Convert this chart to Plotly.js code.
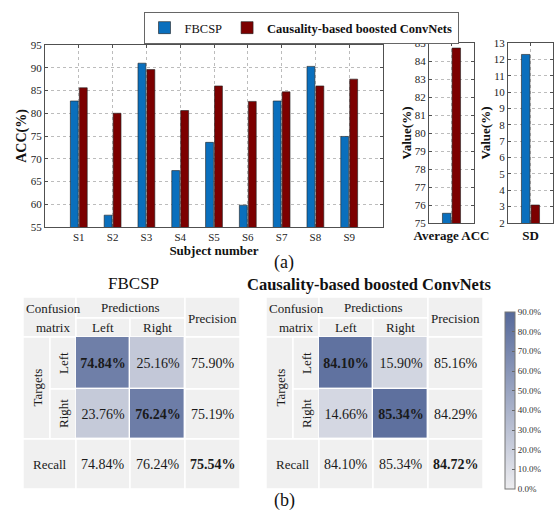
<!DOCTYPE html>
<html><head><meta charset="utf-8">
<script src="https://cdn.plot.ly/plotly-3.0.1.min.js"></script>
<style>html,body{margin:0;padding:0;background:#fff}#chart{width:555px;height:511px}</style>
</head><body><div id="chart"></div><script>
// ---------- data ----------
const subjects = ['S1','S2','S3','S4','S5','S6','S7','S8','S9'];
const fbcspAcc  = [82.7, 57.6, 91.0, 67.4, 73.6, 59.8, 82.7, 90.3, 74.9];
const causalAcc = [85.6, 80.0, 89.6, 80.6, 86.0, 82.6, 84.7, 86.0, 87.5];
const averageLabel = ['Average ACC'];
const averageFbcsp = [75.54];
const averageCausal = [84.72];
const sdLabel = ['SD'];
const sdFbcsp = [12.3];
const sdCausal = [3.1];
const seriesNames = ['FBCSP', '<b>Causality-based boosted ConvNets</b>'];

const classLabels = ['Left', 'Right'];
const fbcspConf = [[74.84, 25.16], [23.76, 76.24]];
const fbcspPrecision = [75.90, 75.19];
const fbcspRecall = [74.84, 76.24];
const fbcspOverall = 75.54;
const causalConf = [[84.10, 15.90], [14.66, 85.34]];
const causalPrecision = [85.16, 84.29];
const causalRecall = [84.10, 85.34];
const causalOverall = 84.72;
const colorbarTicks = [0, 10, 20, 30, 40, 50, 60, 70, 80, 90];

// ---------- style ----------
const W = 555, H = 511;
const FONT = 'Liberation Serif, Times New Roman, serif';
const BLUE = '#0a6fbd', RED = '#7c0000';
const fx = p => p / W;
const fy = p => 1 - p / H;
const fmt = v => v.toFixed(2) + '%';

const axisCommon = {
  showline: true, mirror: 'ticks', linecolor: '#505050', linewidth: 1,
  ticks: 'inside', ticklen: 3, tickcolor: '#505050',
  showgrid: true, griddash: 'dot', gridcolor: '#bcbcbc', gridwidth: 1,
  zeroline: false, fixedrange: true,
  tickfont: {family: FONT, size: 11, color: '#222'}
};
const barLine = {color: '#202020', width: 0.6};

const traces = [
  {type: 'bar', x: subjects, y: fbcspAcc, name: seriesNames[0], xaxis: 'x', yaxis: 'y',
   marker: {color: BLUE, line: barLine}},
  {type: 'bar', x: subjects, y: causalAcc, name: seriesNames[1], xaxis: 'x', yaxis: 'y',
   marker: {color: RED, line: barLine}},
  {type: 'bar', x: averageLabel, y: averageFbcsp, showlegend: false, xaxis: 'x2', yaxis: 'y2',
   marker: {color: BLUE, line: barLine}},
  {type: 'bar', x: averageLabel, y: averageCausal, showlegend: false, xaxis: 'x2', yaxis: 'y2',
   marker: {color: RED, line: barLine}},
  {type: 'bar', x: sdLabel, y: sdFbcsp, showlegend: false, xaxis: 'x3', yaxis: 'y3',
   marker: {color: BLUE, line: barLine}},
  {type: 'bar', x: sdLabel, y: sdCausal, showlegend: false, xaxis: 'x3', yaxis: 'y3',
   marker: {color: RED, line: barLine}}
];

// table geometry (layout units inside each table axis)
const colE = [0, 27, 53, 107, 162, 217];
const rowE = [0, 21, 40, 92, 142, 192];
const shapes = [];
const annotations = [];
const CELL = '#f0f0f0';

function cell(xa, ya, x0, x1, y0, y1) {
  shapes.push({type: 'rect', xref: xa, yref: ya, x0: x0, x1: x1, y0: y0, y1: y1,
    fillcolor: CELL, line: {color: '#ffffff', width: 1.4}, layer: 'below'});
}
function txt(xa, ya, x, y, text, size, angle) {
  annotations.push({xref: xa, yref: ya, x: x, y: y, text: text, showarrow: false,
    xanchor: 'center', yanchor: 'middle',
    textangle: angle || 0, font: {family: FONT, size: size, color: '#1a1a1a'}});
}

function buildTable(n, conf, prec, rec, overall) {
  const xa = 'x' + n, ya = 'y' + n;
  const c = colE, r = rowE;
  cell(xa, ya, c[0], c[2], r[0], r[2]);
  cell(xa, ya, c[2], c[4], r[0], r[1]);
  cell(xa, ya, c[2], c[3], r[1], r[2]);
  cell(xa, ya, c[3], c[4], r[1], r[2]);
  cell(xa, ya, c[4], c[5], r[0], r[2]);
  cell(xa, ya, c[0], c[1], r[2], r[4]);
  cell(xa, ya, c[1], c[2], r[2], r[3]);
  cell(xa, ya, c[1], c[2], r[3], r[4]);
  cell(xa, ya, c[4], c[5], r[2], r[3]);
  cell(xa, ya, c[4], c[5], r[3], r[4]);
  cell(xa, ya, c[0], c[2], r[4], r[5]);
  cell(xa, ya, c[2], c[3], r[4], r[5]);
  cell(xa, ya, c[3], c[4], r[4], r[5]);
  cell(xa, ya, c[4], c[5], r[4], r[5]);

  txt(xa, ya, 30, 11, 'Confusion', 13);
  txt(xa, ya, 30, 30, 'matrix', 13);
  txt(xa, ya, (c[2] + c[4]) / 2, 10, 'Predictions', 13);
  txt(xa, ya, (c[2] + c[3]) / 2, 30, classLabels[0], 13);
  txt(xa, ya, (c[3] + c[4]) / 2, 30, classLabels[1], 13);
  txt(xa, ya, (c[4] + c[5]) / 2, 21, 'Precision', 13);
  txt(xa, ya, (c[0] + c[1]) / 2, (r[2] + r[4]) / 2, 'Targets', 13, -90);
  txt(xa, ya, (c[1] + c[2]) / 2, (r[2] + r[3]) / 2, classLabels[0], 13, -90);
  txt(xa, ya, (c[1] + c[2]) / 2, (r[3] + r[4]) / 2, classLabels[1], 13, -90);
  txt(xa, ya, (c[4] + c[5]) / 2, (r[2] + r[3]) / 2, fmt(prec[0]), 14);
  txt(xa, ya, (c[4] + c[5]) / 2, (r[3] + r[4]) / 2, fmt(prec[1]), 14);
  txt(xa, ya, (c[0] + c[2]) / 2, (r[4] + r[5]) / 2, 'Recall', 13);
  txt(xa, ya, (c[2] + c[3]) / 2, (r[4] + r[5]) / 2, fmt(rec[0]), 14);
  txt(xa, ya, (c[3] + c[4]) / 2, (r[4] + r[5]) / 2, fmt(rec[1]), 14);
  txt(xa, ya, (c[4] + c[5]) / 2, (r[4] + r[5]) / 2, '<b>' + fmt(overall) + '</b>', 14);

  const text = conf.map((row, i) => row.map((v, j) => i === j ? '<b>' + fmt(v) + '</b>' : fmt(v)));
  traces.push({type: 'heatmap', xaxis: xa, yaxis: ya,
    x: [c[2], c[3], c[4]], y: [r[2], r[3], r[4]], z: conf,
    text: text, texttemplate: '%{text}',
    textfont: {family: FONT, size: 14, color: '#1a1a1a'},
    coloraxis: 'coloraxis', xgap: 1.4, ygap: 1.4, hoverinfo: 'skip'});
}
buildTable(4, fbcspConf, fbcspPrecision, fbcspRecall, fbcspOverall);
buildTable(5, causalConf, causalPrecision, causalRecall, causalOverall);

function paperText(x, y, text, size) {
  annotations.push({xref: 'paper', yref: 'paper', x: fx(x), y: fy(y), text: text,
    showarrow: false, xanchor: 'center', yanchor: 'middle',
    font: {family: FONT, size: size, color: '#111'}});
}
paperText(133, 283, 'FBCSP', 17);
paperText(369, 284, '<b>Causality-based boosted ConvNets</b>', 16.5);
paperText(284, 262, '(a)', 18);
paperText(284, 500, '(b)', 18);

const tableAxisX = {visible: false, range: [colE[0], colE[5]], fixedrange: true};
const tableAxisY = {visible: false, range: [rowE[5], rowE[0]], fixedrange: true};

const layout = {
  width: W, height: H,
  margin: {l: 0, r: 0, t: 0, b: 0},
  paper_bgcolor: '#fff', plot_bgcolor: '#fff',
  font: {family: FONT, color: '#222'},
  barmode: 'group', bargap: 0.47, bargroupgap: 0.12,
  showlegend: true,
  legend: {orientation: 'h', x: fx(301), xanchor: 'center', y: fy(12), yanchor: 'top',
    bordercolor: '#666', borderwidth: 1, bgcolor: '#fff',
    font: {family: FONT, size: 12.5, color: '#111'}, itemwidth: 30, tracegroupgap: 0},
  xaxis: Object.assign({}, axisCommon, {domain: [fx(45), fx(383)], anchor: 'y',
    type: 'category', range: [-1, 9],
    title: {text: '<b>Subject number</b>', standoff: 0, font: {family: FONT, size: 13, color: '#111'}}}),
  yaxis: Object.assign({}, axisCommon, {domain: [fy(227), fy(45)], anchor: 'x',
    range: [55, 95], dtick: 5, tick0: 55,
    title: {text: '<b>ACC(%)</b>', standoff: 0, font: {family: FONT, size: 14, color: '#111'}}}),
  xaxis2: Object.assign({}, axisCommon, {domain: [fx(429), fx(474)], anchor: 'y2',
    type: 'category', range: [-0.62, 0.62],
    tickfont: {family: FONT, size: 13, color: '#111', weight: 'bold'}}),
  yaxis2: Object.assign({}, axisCommon, {domain: [fy(223), fy(43)], anchor: 'x2',
    range: [75, 85], dtick: 1, tick0: 75,
    title: {text: '<b>Value(%)</b>', standoff: 0, font: {family: FONT, size: 13, color: '#111'}}}),
  xaxis3: Object.assign({}, axisCommon, {domain: [fx(508), fx(553)], anchor: 'y3',
    type: 'category', range: [-0.62, 0.62],
    tickfont: {family: FONT, size: 13, color: '#111', weight: 'bold'}}),
  yaxis3: Object.assign({}, axisCommon, {domain: [fy(223), fy(43)], anchor: 'x3',
    range: [2, 13], dtick: 1, tick0: 2,
    title: {text: '<b>Value(%)</b>', standoff: 0, font: {family: FONT, size: 13, color: '#111'}}}),
  xaxis4: Object.assign({}, tableAxisX, {domain: [fx(23), fx(240)], anchor: 'y4'}),
  yaxis4: Object.assign({}, tableAxisY, {domain: [fy(489), fy(297)], anchor: 'x4'}),
  xaxis5: Object.assign({}, tableAxisX, {domain: [fx(266), fx(483)], anchor: 'y5'}),
  yaxis5: Object.assign({}, tableAxisY, {domain: [fy(489), fy(297)], anchor: 'x5'}),
  coloraxis: {
    cmin: 0, cmax: 90,
    colorscale: [[0, '#ededf0'], [1, '#56699a']],
    colorbar: {
      x: fx(505), xanchor: 'left', xpad: 0, ypad: 0,
      y: fy(489), yanchor: 'bottom', len: 177 / H, lenmode: 'fraction',
      thickness: 10, thicknessmode: 'pixels',
      outlinewidth: 1, outlinecolor: '#777',
      tickmode: 'array', tickvals: colorbarTicks,
      ticktext: colorbarTicks.map(v => v.toFixed(1) + '%'),
      ticks: 'inside', ticklen: 3, tickcolor: '#666',
      tickfont: {family: FONT, size: 9, color: '#333'}
    }
  },
  shapes: shapes,
  annotations: annotations
};

Plotly.newPlot('chart', traces, layout, {displayModeBar: false, staticPlot: true});
</script></body></html>
